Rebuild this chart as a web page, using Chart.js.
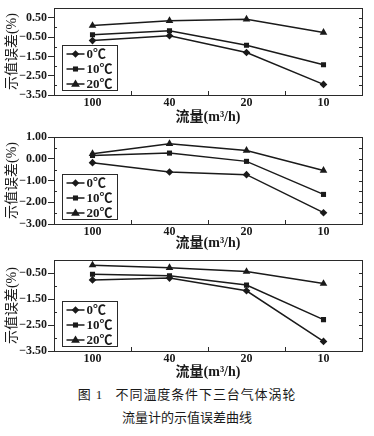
<!DOCTYPE html>
<html>
<head>
<meta charset="utf-8">
<script src="https://cdn.jsdelivr.net/npm/chart.js"></script>
<style>
body{margin:0;background:#fff;width:374px;height:436px;position:relative;overflow:hidden}
.box{position:absolute;left:0;width:374px}
.cap{position:absolute;left:0;width:374px;text-align:center;font-size:13px;font-family:"Liberation Serif","Noto Sans CJK SC";color:#1a1a1a;white-space:pre}
</style>
</head>
<body>
<div class="box" style="top:0;height:126px"><canvas id="c1"></canvas></div>
<div class="box" style="top:126px;height:126px"><canvas id="c2"></canvas></div>
<div class="box" style="top:252px;height:129px"><canvas id="c3"></canvas></div>
<div class="cap" style="top:384px;letter-spacing:0.9px">图 1   不同温度条件下三台气体涡轮</div>
<div class="cap" style="top:407px">流量计的示值误差曲线</div>
<script>
// flow points (m3/h), series = temperature
const flows = ["100", "40", "20", "10"];
const seriesNames = ["0℃", "10℃", "20℃"];
const shapes = ["rectRot", "rect", "triangle"];
const sizes = [3.8, 3.6, 4.4];

// meter 1
const m1_0 = [-0.68, -0.43, -1.30, -2.95];
const m1_10 = [-0.38, -0.17, -0.92, -1.93];
const m1_20 = [0.10, 0.35, 0.43, -0.26];
// meter 2
const m2_0 = [-0.18, -0.61, -0.73, -2.48];
const m2_10 = [0.15, 0.26, -0.12, -1.64];
const m2_20 = [0.23, 0.69, 0.38, -0.54];
// meter 3
const m3_0 = [-0.76, -0.69, -1.18, -3.13];
const m3_10 = [-0.54, -0.60, -0.96, -2.29];
const m3_20 = [-0.19, -0.29, -0.44, -0.90];

const yTicks1 = [-3.5, -2.5, -1.5, -0.5, 0.5];
const yTicks2 = [-3, -2, -1, 0, 1];
const yTicks3 = [-3.5, -2.5, -1.5, -0.5];

const INK = "#1a1a1a";
const FONT = "'Liberation Serif', 'Noto Sans CJK SC'";

function fmt(v) {
  return (v < 0 ? "−" : "") + Math.abs(v).toFixed(2);
}

function marker(ctx, shape, r, x, y) {
  ctx.beginPath();
  if (shape === "rectRot") {
    ctx.moveTo(x, y - r); ctx.lineTo(x + r, y); ctx.lineTo(x, y + r); ctx.lineTo(x - r, y);
  } else if (shape === "rect") {
    const s = r * Math.SQRT1_2;
    ctx.rect(x - s, y - s, 2 * s, 2 * s);
  } else {
    ctx.moveTo(x, y - r); ctx.lineTo(x + r, y + r * 0.6); ctx.lineTo(x - r, y + r * 0.6);
  }
  ctx.closePath();
  ctx.fill();
}

// frame, inner ticks and the boxed legend
const decor = {
  id: "decor",
  beforeDatasetsDraw(chart, args, o) {
    const ctx = chart.ctx, a = chart.chartArea;
    const y = chart.scales.y, x = chart.scales.x;
    ctx.save();
    ctx.strokeStyle = "#2a2a2a";
    ctx.lineWidth = 1;
    ctx.strokeRect(Math.round(a.left) + 0.5, Math.round(a.top) + 0.5, Math.round(a.right - a.left), Math.round(a.bottom - a.top));
    ctx.beginPath();
    for (let v = y.min; v <= y.max + 1e-6; v += 0.5) {
      const py = Math.round(y.getPixelForValue(v)) + 0.5;
      if (!o.labels.some(t => Math.abs(t - v) < 1e-6)) {
        ctx.moveTo(a.left, py); ctx.lineTo(a.left + 3, py);
      }
      ctx.moveTo(a.right, py); ctx.lineTo(a.right - 3, py);
    }
    for (let i = 0; i < flows.length - 1; i++) {
      const px = Math.round((x.getPixelForTick(i) + x.getPixelForTick(i + 1)) / 2) + 0.5;
      ctx.moveTo(px, a.bottom); ctx.lineTo(px, a.bottom - 4);
    }
    ctx.stroke();
    ctx.restore();
  },
  afterDatasetsDraw(chart) {
    const ctx = chart.ctx, a = chart.chartArea;
    const bx = Math.round(a.left) + 8.5, by = Math.round(a.bottom) - 49.5;
    ctx.save();
    ctx.fillStyle = "#fff";
    ctx.fillRect(bx, by, 55, 45);
    ctx.strokeStyle = "#2a2a2a";
    ctx.lineWidth = 1;
    ctx.strokeRect(bx, by, 55, 45);
    ctx.font = "bold 13px " + FONT;
    ctx.textBaseline = "middle";
    chart.data.datasets.forEach((d, i) => {
      const ry = by + 8.5 + i * 15;
      ctx.strokeStyle = INK; ctx.lineWidth = 1.5;
      ctx.beginPath(); ctx.moveTo(bx + 4, ry); ctx.lineTo(bx + 22, ry); ctx.stroke();
      ctx.fillStyle = INK;
      marker(ctx, shapes[i], sizes[i], bx + 13, ry);
      ctx.fillText(d.label, bx + 24, ry + 0.5);
    });
    ctx.restore();
  }
};

function makeChart(id, data, yMin, yMax, yTicks, top, axisH) {
  const datasets = data.map((vals, i) => ({
    label: seriesNames[i],
    data: vals,
    borderColor: INK,
    backgroundColor: INK,
    borderWidth: 1.5,
    pointStyle: shapes[i],
    pointRadius: sizes[i],
    pointBorderWidth: 0,
    tension: 0
  }));
  return new Chart(document.getElementById(id), {
    type: "line",
    data: { labels: flows, datasets: datasets },
    options: {
      responsive: true,
      maintainAspectRatio: false,
      animation: false,
      layout: { padding: { top: top, left: 0, right: 12, bottom: 0 } },
      plugins: { legend: { display: false }, tooltip: { enabled: false }, decor: { labels: yTicks } },
      scales: {
        x: {
          offset: true,
          grid: { display: false, drawTicks: false },
          border: { display: false },
          ticks: { color: INK, padding: 1, font: { family: FONT, size: 12, weight: "bold" } },
          title: { display: true, text: "流量(m³/h)", color: INK, padding: 0, font: { family: FONT, size: 14, weight: "bold" } },
          afterFit: s => { s.height = axisH; }
        },
        y: {
          min: yMin,
          max: yMax,
          grid: { drawOnChartArea: false, tickLength: 6, color: "#2a2a2a" },
          border: { display: false },
          afterBuildTicks: s => { s.ticks = yTicks.map(v => ({ value: v })); },
          ticks: { color: INK, padding: 1, callback: v => fmt(v), font: { family: FONT, size: 12, weight: "bold" } },
          title: { display: true, text: "示值误差(%)", color: INK, padding: { top: 4, bottom: 0 }, font: { family: FONT, size: 14 } },
          afterFit: s => { s.width = 54; }
        }
      }
    },
    plugins: [decor]
  });
}

makeChart("c1", [m1_0, m1_10, m1_20], -3.5, 1, yTicks1, 6, 31);
makeChart("c2", [m2_0, m2_10, m2_20], -3, 1, yTicks2, 11, 28);
makeChart("c3", [m3_0, m3_10, m3_20], -3.5, 0, yTicks3, 7, 30);
</script>
</body>
</html>
